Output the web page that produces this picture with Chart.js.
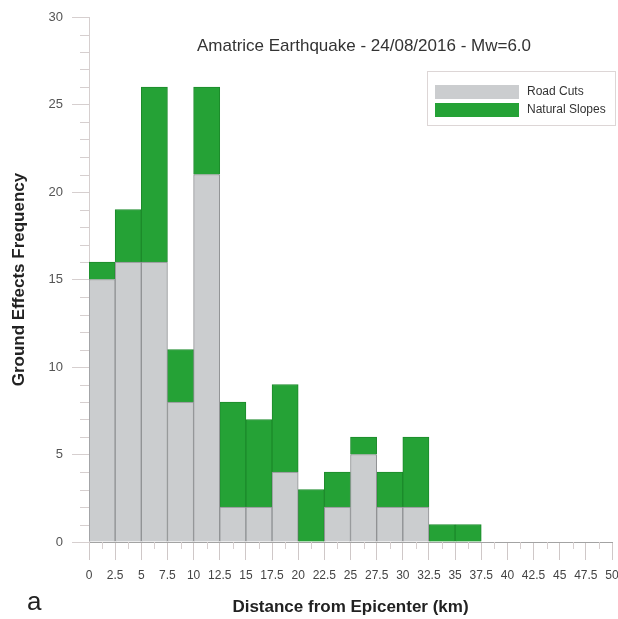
<!DOCTYPE html>
<html lang="en">
<head>
  <meta charset="UTF-8" />
  <title>Amatrice Earthquake - Ground Effects</title>
  <script src="https://cdn.jsdelivr.net/npm/chart.js"></script>
  <style>
    body {
      margin: 0;
      background: #fff;
    }

    #wrap {
      width: 618px;
      height: 619px;
      position: relative;
    }
  </style>
</head>
<body>
  <div id="wrap">
    <canvas id="histogram"></canvas>
  </div>

  <script>
    // bins of 2.5 km, value = start of the bin
    const binStart = [0, 2.5, 5, 7.5, 10, 12.5, 15, 17.5, 20, 22.5, 25, 27.5, 30, 32.5, 35, 37.5, 40, 42.5, 45, 47.5];
    const binWidth = 2.5;
    const roadCuts = [15, 16, 16, 8, 21, 2, 2, 4, 0, 2, 5, 2, 2, 0, 0, 0, 0, 0, 0, 0];
    const naturalSlopes = [1, 3, 10, 3, 5, 6, 5, 5, 3, 2, 1, 2, 4, 1, 1, 0, 0, 0, 0, 0];
    const xTicks = [0, 2.5, 5, 7.5, 10, 12.5, 15, 17.5, 20, 22.5, 25, 27.5, 30, 32.5, 35, 37.5, 40, 42.5, 45, 47.5, 50];
    const yTicks = [0, 5, 10, 15, 20, 25, 30];

    const FONT = "'Liberation Sans', Arial, sans-serif";
    Chart.defaults.font.family = FONT;

    function toPoints(values) {
      // zero bins are left empty so no thin line is drawn
      return values.map((v, i) => ({ x: binStart[i] + binWidth / 2, y: v || null }));
    }

    // minor ticks: every 1 on y, halfway between labels on x
    const minorTicks = {
      id: 'minorTicks',
      afterDraw(chart) {
        const { ctx } = chart;
        const x = chart.scales.x;
        const y = chart.scales.y;
        ctx.save();
        ctx.strokeStyle = '#d6cfcf';
        ctx.lineWidth = 1;
        ctx.beginPath();
        for (let v = yTicks[0]; v < yTicks[yTicks.length - 1]; v++) {
          if (yTicks.includes(v)) continue;
          const py = Math.round(y.getPixelForValue(v)) + 0.5;
          ctx.moveTo(x.left - 9, py);
          ctx.lineTo(x.left, py);
        }
        for (let i = 0; i < xTicks.length - 1; i++) {
          const px = Math.round(x.getPixelForValue((xTicks[i] + xTicks[i + 1]) / 2)) + 0.5;
          ctx.moveTo(px, y.bottom);
          ctx.lineTo(px, y.bottom + 7);
        }
        ctx.stroke();
        ctx.restore();
      }
    };

    // title, legend box and panel letter drawn inside the plot
    const extras = {
      id: 'extras',
      afterDraw(chart) {
        const { ctx } = chart;
        ctx.save();
        ctx.fillStyle = '#333';
        ctx.font = '17px ' + FONT;
        ctx.textAlign = 'center';
        ctx.textBaseline = 'middle';
        ctx.fillText('Amatrice Earthquake - 24/08/2016 - Mw=6.0', 364, 46);

        // legend
        ctx.strokeStyle = '#ddd6d6';
        ctx.lineWidth = 1;
        ctx.strokeRect(427.5, 71.5, 188, 54);
        ctx.font = '12px ' + FONT;
        ctx.textAlign = 'left';
        chart.data.datasets.forEach((ds, i) => {
          const top = 85 + i * 18;
          ctx.fillStyle = ds.backgroundColor;
          ctx.fillRect(435, top, 84, 14);
          ctx.fillStyle = '#333';
          ctx.fillText(ds.label, 527, top + 7);
        });

        ctx.fillStyle = '#222';
        ctx.font = '26px ' + FONT;
        ctx.textBaseline = 'alphabetic';
        ctx.fillText('a', 27, 610);
        ctx.restore();
      }
    };

    new Chart(document.getElementById('histogram'), {
      type: 'bar',
      data: {
        datasets: [
          {
            label: 'Road Cuts',
            data: toPoints(roadCuts),
            backgroundColor: '#cbcdcf',
            borderColor: '#8f9193',
            borderWidth: 1
          },
          {
            label: 'Natural Slopes',
            data: toPoints(naturalSlopes),
            backgroundColor: '#25a236',
            borderColor: '#1c8a2b',
            borderWidth: 1
          }
        ]
      },
      plugins: [minorTicks, extras],
      options: {
        responsive: true,
        maintainAspectRatio: false,
        animation: false,
        barPercentage: 1,
        categoryPercentage: 1,
        layout: { padding: { left: 0, top: 17, right: 6, bottom: 0 } },
        plugins: {
          legend: { display: false },
          tooltip: { enabled: false }
        },
        scales: {
          x: {
            type: 'linear',
            min: 0,
            max: 50,
            offset: false,
            stacked: true,
            afterBuildTicks(s) {
              s.ticks = xTicks.map(v => ({ value: v }));
            },
            afterFit(s) {
              s.height = 77;
              s.paddingLeft = 0;
              s.paddingRight = 0;
            },
            ticks: {
              callback: v => String(v),
              color: '#444',
              font: { size: 12 },
              padding: 8,
              maxRotation: 0,
              autoSkip: false
            },
            grid: { offset: false, drawOnChartArea: false, tickLength: 18, color: '#cfc8c8' },
            border: { color: '#a3a3a3' },
            title: {
              display: true,
              text: 'Distance from Epicenter (km)',
              color: '#222',
              font: { size: 17, weight: 'bold' },
              padding: { top: 0, bottom: 1 }
            }
          },
          y: {
            min: 0,
            max: 30,
            stacked: true,
            afterBuildTicks(s) {
              s.ticks = yTicks.map(v => ({ value: v }));
            },
            afterFit(s) {
              s.width = 89;
              s.paddingTop = 0;
              s.paddingBottom = 0;
            },
            ticks: {
              color: '#555',
              font: { size: 13 },
              padding: 9
            },
            grid: { drawOnChartArea: false, tickLength: 17, color: '#d6cfcf' },
            border: { color: '#d6cfcf' },
            title: {
              display: true,
              text: 'Ground Effects Frequency',
              color: '#222',
              font: { size: 17, weight: 'bold' },
              padding: { top: 9, bottom: 0 }
            }
          }
        }
      }
    });
  </script>
</body>
</html>
